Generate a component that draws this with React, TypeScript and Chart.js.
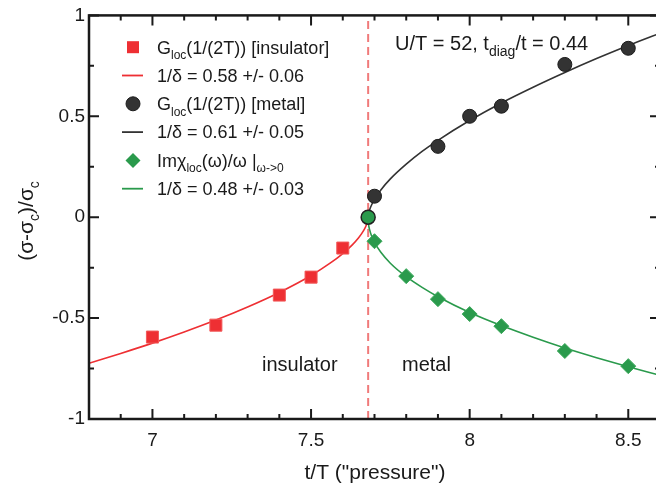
import React, { useEffect, useRef } from "react";
import { Chart, registerables } from "chart.js";

Chart.register(...registerables);

// ---------- axis ticks ----------
const xMajorTicks = [7, 7.5, 8, 8.5];
const xTickLabels = ["7", "7.5", "8", "8.5"];
const xMinorTicks = [6.9, 7.1, 7.2, 7.3, 7.4, 7.6, 7.7, 7.8, 7.9, 8.1, 8.2, 8.3, 8.4, 8.6];
const yMajorTicks = [-1, -0.5, 0, 0.5, 1];
const yTickLabels = ["-1", "-0.5", "0", "0.5", "1"];
const yMinorTicks = [-0.75, -0.25, 0.25, 0.75];

// ---------- data points ----------
const insulatorX = [7.0, 7.2, 7.4, 7.5, 7.6];
const insulatorY = [-0.594, -0.535, -0.386, -0.297, -0.153];

const metalX = [7.7, 7.9, 8.0, 8.1, 8.3, 8.5];
const metalY = [0.104, 0.351, 0.5, 0.55, 0.757, 0.837];

const chiX = [7.7, 7.8, 7.9, 8.0, 8.1, 8.3, 8.5];
const chiY = [-0.119, -0.292, -0.406, -0.48, -0.54, -0.663, -0.738];

const criticalX = [7.68];
const criticalY = [0];

// ---------- fit curves ----------
const fitInsX = [6.8, 6.9, 7.0, 7.1, 7.2, 7.3, 7.4, 7.5, 7.56, 7.6, 7.63, 7.65, 7.665, 7.675, 7.679, 7.68];
const fitInsY = [-0.724, -0.675, -0.624, -0.569, -0.51, -0.445, -0.373, -0.289, -0.228, -0.18, -0.137, -0.102, -0.068, -0.036, -0.014, 0];

const fitMetX = [7.68, 7.681, 7.685, 7.69, 7.7, 7.72, 7.75, 7.8, 7.85, 7.9, 8.0, 8.1, 8.2, 8.3, 8.4, 8.5, 8.6];
const fitMetY = [0, 0.014, 0.038, 0.058, 0.088, 0.135, 0.19, 0.263, 0.326, 0.381, 0.479, 0.566, 0.644, 0.717, 0.786, 0.851, 0.912];

const fitChiX = [7.68, 7.681, 7.685, 7.69, 7.7, 7.72, 7.75, 7.8, 7.85, 7.9, 8.0, 8.1, 8.2, 8.3, 8.4, 8.5, 8.6];
const fitChiY = [0, -0.03, -0.064, -0.089, -0.125, -0.174, -0.228, -0.295, -0.348, -0.394, -0.472, -0.537, -0.595, -0.648, -0.696, -0.741, -0.783];

const criticalLineX = [7.68, 7.68];
const criticalLineY = [-1, 1];

// ---------- texts ----------
type Part = { t: string; sub?: boolean };
const legendRows: { kind: string; parts: Part[] }[] = [
  { kind: "square", parts: [{ t: "G" }, { t: "loc", sub: true }, { t: "(1/(2T)) [insulator]" }] },
  { kind: "redline", parts: [{ t: "1/δ = 0.58 +/- 0.06" }] },
  { kind: "circle", parts: [{ t: "G" }, { t: "loc", sub: true }, { t: "(1/(2T)) [metal]" }] },
  { kind: "blackline", parts: [{ t: "1/δ = 0.61 +/- 0.05" }] },
  { kind: "diamond", parts: [{ t: "Imχ" }, { t: "loc", sub: true }, { t: "(ω)/ω |" }, { t: "ω->0", sub: true }] },
  { kind: "greenline", parts: [{ t: "1/δ = 0.48 +/- 0.03" }] },
];
const annotationParts: Part[] = [{ t: "U/T = 52, t" }, { t: "diag", sub: true }, { t: "/t = 0.44" }];
const yTitleParts: Part[] = [{ t: "(σ-σ" }, { t: "c", sub: true }, { t: ")/σ" }, { t: "c", sub: true }];
const xTitle = 't/T ("pressure")';
const regionLabels = ["insulator", "metal"];

const FONT = "'Liberation Sans', Arial, Helvetica, sans-serif";
const RED = "#ee2f33";
const BLACK = "#333333";
const GREEN = "#2a9a4c";

const pts = (xs: number[], ys: number[]) => xs.map((x, i) => ({ x, y: ys[i] }));

function richWidth(ctx: CanvasRenderingContext2D, parts: Part[], size: number) {
  let w = 0;
  for (const p of parts) {
    ctx.font = `${p.sub ? Math.round(size * 0.68) : size}px ${FONT}`;
    w += ctx.measureText(p.t).width;
  }
  return w;
}

function drawRich(
  ctx: CanvasRenderingContext2D,
  parts: Part[],
  x: number,
  baseline: number,
  size: number,
  align: "left" | "center" = "left"
) {
  let cx = x;
  if (align === "center") cx = x - richWidth(ctx, parts, size) / 2;
  ctx.textAlign = "left";
  ctx.textBaseline = "alphabetic";
  for (const p of parts) {
    const s = p.sub ? Math.round(size * 0.68) : size;
    ctx.font = `${s}px ${FONT}`;
    ctx.fillText(p.t, cx, baseline + (p.sub ? size * 0.3 : 0));
    cx += ctx.measureText(p.t).width;
  }
}

const decorPlugin = {
  id: "decor",
  afterDraw(chart: any) {
    const ctx: CanvasRenderingContext2D = chart.ctx;
    const { left, right, top, bottom } = chart.chartArea;
    const xs = chart.scales.x;
    const ys = chart.scales.y;
    ctx.save();
    ctx.strokeStyle = "#1a1a1a";
    // ticks
    ctx.lineWidth = 2;
    const major = 10;
    const minor = 5;
    const xt = (v: number, len: number) => {
      const px = xs.getPixelForValue(v);
      ctx.beginPath();
      ctx.moveTo(px, bottom);
      ctx.lineTo(px, bottom - len);
      ctx.moveTo(px, top);
      ctx.lineTo(px, top + len);
      ctx.stroke();
    };
    const yt = (v: number, len: number) => {
      const py = ys.getPixelForValue(v);
      ctx.beginPath();
      ctx.moveTo(left, py);
      ctx.lineTo(left + len, py);
      ctx.moveTo(right, py);
      ctx.lineTo(right - len, py);
      ctx.stroke();
    };
    xMajorTicks.forEach((v) => xt(v, major));
    xMinorTicks.forEach((v) => xt(v, minor));
    yMajorTicks.forEach((v) => yt(v, major));
    yMinorTicks.forEach((v) => yt(v, minor));
    // frame
    ctx.lineWidth = 2.5;
    ctx.strokeRect(left, top, right - left, bottom - top);

    // legend
    ctx.fillStyle = "#1a1a1a";
    const mx = 133;
    legendRows.forEach((row, i) => {
      const baseline = 53.5 + i * 28.3;
      const cy = baseline - 6.3;
      ctx.save();
      if (row.kind === "square") {
        ctx.fillStyle = RED;
        ctx.fillRect(mx - 6, cy - 6, 12, 12);
      } else if (row.kind === "circle") {
        ctx.fillStyle = BLACK;
        ctx.strokeStyle = "#1c1c1c";
        ctx.lineWidth = 1;
        ctx.beginPath();
        ctx.arc(mx, cy, 7, 0, Math.PI * 2);
        ctx.fill();
        ctx.stroke();
      } else if (row.kind === "diamond") {
        ctx.fillStyle = GREEN;
        ctx.beginPath();
        ctx.moveTo(mx, cy - 7.5);
        ctx.lineTo(mx + 7.5, cy);
        ctx.lineTo(mx, cy + 7.5);
        ctx.lineTo(mx - 7.5, cy);
        ctx.closePath();
        ctx.fill();
      } else {
        ctx.strokeStyle = row.kind === "redline" ? RED : row.kind === "blackline" ? BLACK : GREEN;
        ctx.lineWidth = 1.8;
        ctx.beginPath();
        ctx.moveTo(122, cy);
        ctx.lineTo(143, cy);
        ctx.stroke();
      }
      ctx.restore();
      ctx.fillStyle = "#1a1a1a";
      drawRich(ctx, row.parts, 157, baseline, 18);
    });

    // annotation
    drawRich(ctx, annotationParts, 395, 50, 20);

    // region labels
    ctx.font = `20px ${FONT}`;
    ctx.textAlign = "left";
    ctx.textBaseline = "alphabetic";
    ctx.fillText(regionLabels[0], 262, 371);
    ctx.fillText(regionLabels[1], 402, 371);

    // x title
    ctx.font = `21px ${FONT}`;
    ctx.textAlign = "center";
    ctx.fillText(xTitle, 375, 479);

    // y title
    ctx.save();
    ctx.translate(25, 221);
    ctx.rotate(-Math.PI / 2);
    drawRich(ctx, yTitleParts, 0, 7.5, 21, "center");
    ctx.restore();

    ctx.restore();
  },
};

export default function App() {
  const ref = useRef<HTMLCanvasElement | null>(null);
  useEffect(() => {
    if (!ref.current) return;
    const chart = new Chart(ref.current, {
      type: "scatter",
      data: {
        datasets: [
          {
            label: "critical",
            data: pts(criticalX, criticalY),
            pointStyle: "circle",
            pointRadius: 7,
            backgroundColor: GREEN,
            borderColor: "#222222",
            borderWidth: 1.5,
            order: 0,
          } as any,
          {
            label: "insulator",
            data: pts(insulatorX, insulatorY),
            pointStyle: "rect",
            pointRadius: 8.5,
            backgroundColor: RED,
            borderColor: "#f25a5a",
            borderWidth: 1,
            order: 1,
          },
          {
            label: "metal",
            data: pts(metalX, metalY),
            pointStyle: "circle",
            pointRadius: 7,
            backgroundColor: BLACK,
            borderColor: "#1c1c1c",
            borderWidth: 1,
            order: 1,
          },
          {
            label: "chi",
            data: pts(chiX, chiY),
            pointStyle: "rectRot",
            pointRadius: 7.5,
            backgroundColor: GREEN,
            borderColor: "#3aa85a",
            borderWidth: 1,
            order: 1,
          },
          {
            label: "fit insulator",
            data: pts(fitInsX, fitInsY),
            showLine: true,
            pointRadius: 0,
            borderColor: RED,
            borderWidth: 1.6,
            cubicInterpolationMode: "monotone",
            order: 5,
          },
          {
            label: "fit metal",
            data: pts(fitMetX, fitMetY),
            showLine: true,
            pointRadius: 0,
            borderColor: BLACK,
            borderWidth: 1.6,
            cubicInterpolationMode: "monotone",
            order: 5,
          },
          {
            label: "fit chi",
            data: pts(fitChiX, fitChiY),
            showLine: true,
            pointRadius: 0,
            borderColor: GREEN,
            borderWidth: 1.6,
            cubicInterpolationMode: "monotone",
            order: 5,
          },
          {
            label: "critical line",
            data: pts(criticalLineX, criticalLineY),
            showLine: true,
            pointRadius: 0,
            borderColor: "#f07a7a",
            borderWidth: 2,
            borderDash: [8, 5],
            order: 10,
          },
        ] as any,
      },
      options: {
        animation: false,
        responsive: false,
        events: [],
        layout: { padding: { left: 0, right: 20, top: 15, bottom: 0 } },
        plugins: { legend: { display: false }, tooltip: { enabled: false } },
        scales: {
          x: {
            type: "linear",
            min: 6.8,
            max: 8.6,
            grid: { display: false, drawTicks: false },
            border: { display: false },
            afterBuildTicks: (s: any) => {
              s.ticks = xMajorTicks.map((v) => ({ value: v }));
            },
            afterFit: (s: any) => {
              s.height = 68;
            },
            ticks: {
              padding: 10,
              color: "#1a1a1a",
              font: { family: FONT, size: 19 },
              callback: (v: any) => {
                const i = xMajorTicks.indexOf(Number(v));
                return i >= 0 ? xTickLabels[i] : "";
              },
            },
          },
          y: {
            type: "linear",
            min: -1,
            max: 1,
            grid: { display: false, drawTicks: false },
            border: { display: false },
            afterBuildTicks: (s: any) => {
              s.ticks = yMajorTicks.map((v) => ({ value: v }));
            },
            afterFit: (s: any) => {
              s.width = 89;
            },
            ticks: {
              padding: 4,
              color: "#1a1a1a",
              font: { family: FONT, size: 19 },
              callback: (v: any) => {
                const i = yMajorTicks.indexOf(Number(v));
                return i >= 0 ? yTickLabels[i] : "";
              },
            },
          },
        },
      },
      plugins: [decorPlugin],
    });
    return () => chart.destroy();
  }, []);

  return (
    <div
      style={{
        position: "fixed",
        left: 0,
        top: 0,
        width: 656,
        height: 487,
        overflow: "hidden",
        background: "#ffffff",
      }}
    >
      <canvas ref={ref} width={680} height={487} style={{ width: 680, height: 487, display: "block" }} />
    </div>
  );
}
